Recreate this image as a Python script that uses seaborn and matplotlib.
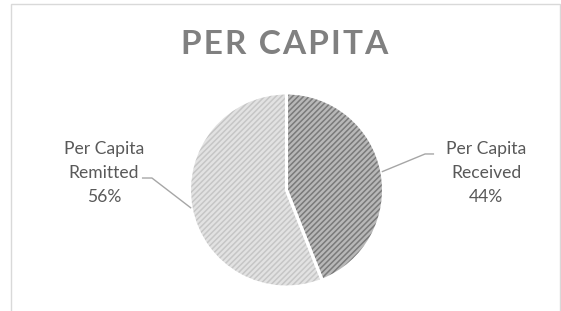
import numpy as np
import matplotlib
matplotlib.use("Agg")
import matplotlib.pyplot as plt
import seaborn as sns
from matplotlib.patches import Rectangle

# ---- data ----
categories = ["Per Capita\nReceived", "Per Capita\nRemitted"]
values = [44, 56]
title = "PER CAPITA"

sns.set_theme(style="white")
plt.rcParams['font.family'] = ['Lato', 'DejaVu Sans']
plt.rcParams['hatch.linewidth'] = 1.1

W, H, DPI = 561, 311, 100
fig = plt.figure(figsize=(W / DPI, H / DPI), dpi=DPI)
ax = fig.add_axes([0, 0, 1, 1])

# pie geometry in pixels
cx, cy, r = 286.5, 190.0, 97.0

face_colors = ["#b8b8b8", "#e2e2e2"]
hatch_colors = ["#7a7a7a", "#c6c6c6"]

wedges, _ = ax.pie(values, startangle=90, counterclock=False, radius=1,
                   colors=face_colors, wedgeprops=dict(linewidth=0))
for w, hc in zip(wedges, hatch_colors):
    w.set_hatch("//////")
    w.set_edgecolor(hc)
    w.set_linewidth(0)

# white separators / rim
ax.pie(values, startangle=90, counterclock=False, radius=1,
       colors=["none", "none"],
       wedgeprops=dict(linewidth=2.2, edgecolor="white", fill=False))

ax.set_aspect("auto")
ax.set_xlim(-cx / r, (W - cx) / r)
ax.set_ylim(-(H - cy) / r, cy / r)
ax.axis("off")

# labels with leader lines
text_color = "#595959"
line_color = "#a6a6a6"
label_specs = [
    dict(elbow=(0.446, 0.184), end_dx=0.093, text=(1.075, -0.012)),
    dict(elbow=(-0.405, 0.311), end_dx=-0.103, text=(-0.899, 0.362)),
]
for w, cat, v, spec in zip(wedges, categories, values, label_specs):
    ang = np.deg2rad((w.theta1 + w.theta2) / 2)
    ex, ey = np.cos(ang), np.sin(ang)
    bx, by = ex + spec["elbow"][0], ey + spec["elbow"][1]
    ax.plot([ex, bx, bx + spec["end_dx"]], [ey, by, by], color=line_color,
            lw=1.0, solid_capstyle="butt")
    ax.text(ex + spec["text"][0], ey + spec["text"][1], f"{cat}\n{v}%",
            ha="center", va="center", fontsize=12.6, color=text_color,
            linespacing=1.6)

spaced_title = "\u200a".join(title)
fig.text(285 / W, 1 - 45 / H, spaced_title, ha="center", va="center",
         fontsize=24, fontweight="bold", color="#808080")

# chart area border
fig.patches.append(Rectangle((11 / W, -0.1), (560 - 11) / W, 1.1 - 3.5 / H,
                             transform=fig.transFigure, fill=False,
                             edgecolor="#d9d9d9", lw=1.0))

fig.savefig("out.png", dpi=DPI, facecolor="white")
